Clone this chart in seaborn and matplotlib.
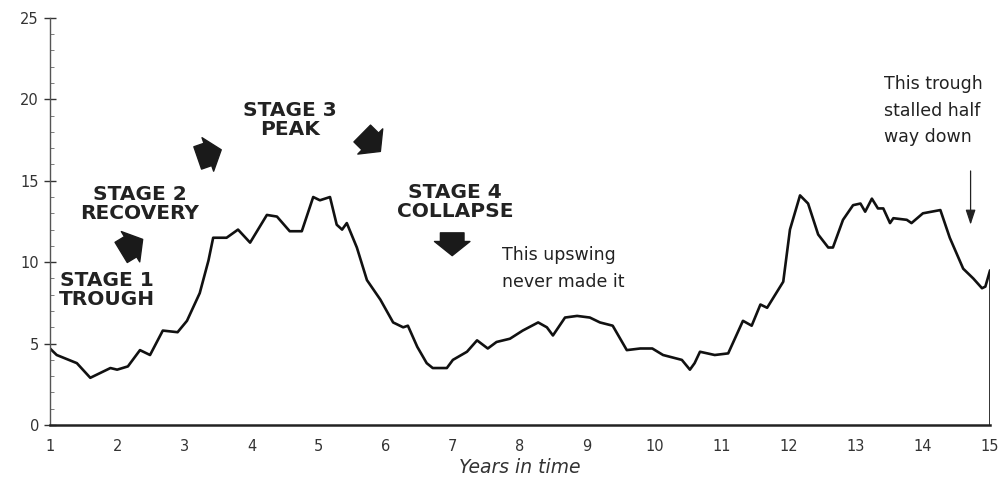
import numpy as np
import pandas as pd
import matplotlib
matplotlib.use("Agg")
import matplotlib.pyplot as plt
import seaborn as sns

# curve
years = [1.0, 1.1, 1.4, 1.6, 1.9, 2.0, 2.16, 2.34, 2.49, 2.68,
         2.9, 3.04, 3.23, 3.36, 3.43, 3.63, 3.8, 3.98, 4.23, 4.38,
         4.57, 4.75, 4.92, 5.02, 5.17, 5.27, 5.35, 5.42, 5.57, 5.72,
         5.92, 6.11, 6.26, 6.33, 6.47, 6.61, 6.7, 6.91, 7.0, 7.21,
         7.36, 7.52, 7.65, 7.85, 8.04, 8.27, 8.4, 8.49, 8.67, 8.85,
         9.04, 9.19, 9.38, 9.59, 9.79, 9.97, 10.13, 10.41, 10.53, 10.6,
         10.68, 10.9, 11.1, 11.32, 11.45, 11.58, 11.68, 11.92, 12.02, 12.17,
         12.29, 12.44, 12.59, 12.66, 12.81, 12.96, 13.07, 13.14, 13.24, 13.33,
         13.41, 13.51, 13.56, 13.76, 13.83, 14.0, 14.26, 14.4, 14.6, 14.75,
         14.88, 14.93, 15.0]
values = [4.7, 4.3, 3.8, 2.9, 3.5, 3.4, 3.6, 4.6, 4.3, 5.8,
          5.7, 6.4, 8.1, 10.1, 11.5, 11.5, 12.0, 11.2, 12.9, 12.8,
          11.9, 11.9, 14.0, 13.8, 14.0, 12.3, 12.0, 12.4, 10.9, 8.9,
          7.7, 6.3, 6.0, 6.1, 4.8, 3.8, 3.5, 3.5, 4.0, 4.5,
          5.2, 4.7, 5.1, 5.3, 5.8, 6.3, 6.0, 5.5, 6.6, 6.7,
          6.6, 6.3, 6.1, 4.6, 4.7, 4.7, 4.3, 4.0, 3.4, 3.8,
          4.5, 4.3, 4.4, 6.4, 6.1, 7.4, 7.2, 8.8, 12.0, 14.1,
          13.6, 11.7, 10.9, 10.9, 12.6, 13.5, 13.6, 13.1, 13.9, 13.3,
          13.3, 12.4, 12.7, 12.6, 12.4, 13.0, 13.2, 11.5, 9.6, 9.0,
          8.4, 8.5, 9.5]

x_ticks = list(range(1, 16))
y_ticks = [0, 5, 10, 15, 20, 25]

# stage labels: text, x, y
stage_labels = ["STAGE 1\nTROUGH", "STAGE 2\nRECOVERY", "STAGE 3\nPEAK", "STAGE 4\nCOLLAPSE"]
stage_x = [1.85, 2.34, 4.57, 7.03]
stage_y = [8.3, 13.6, 18.7, 13.7]

# block arrows: tail -> tip
arrow_tail = [(2.06, 10.6), (3.20, 16.4), (5.65, 17.9), (6.99, 11.8)]
arrow_tip = [(2.38, 11.4), (3.55, 16.9), (5.92, 16.8), (6.99, 10.4)]

notes = ["This upswing\nnever made it", "This trough\nstalled half\nway down"]
note_x = [7.73, 13.42]
note_y = [9.6, 19.3]

df = pd.DataFrame({"year": years, "value": values})

sns.set_style("ticks")
plt.rcParams["font.family"] = ["DejaVu Sans"]

fig = plt.figure(figsize=(10.08, 4.83), dpi=100)
ax = fig.add_axes([0.0496, 0.12, 0.9326, 0.843])

sns.lineplot(data=df, x="year", y="value", ax=ax, color="#111111", linewidth=1.9)
# the curve drops to the axis at the right end
ax.vlines(years[-1], 0, values[-1], color="#111111", linewidth=1.2)

ax.set_xlim(1, 15)
ax.set_ylim(0, 25)
ax.set_xticks(x_ticks)
ax.set_yticks(y_ticks)
ax.set_yticks(np.arange(0, 26, 1), minor=True)
ax.tick_params(axis="x", length=0, pad=10, labelsize=10.5, colors="#333333")
ax.tick_params(axis="y", which="major", direction="inout", length=8, width=1,
               labelsize=10.5, colors="#333333", pad=4)
ax.tick_params(axis="y", which="minor", direction="in", length=3, width=0.6, colors="#666666")
ax.set_xlabel("Years in time", fontstyle="italic", fontsize=13.5, color="#333333", labelpad=3)
ax.set_ylabel("")

sns.despine(ax=ax, top=True, right=True)
ax.spines["left"].set_color("#555555")
ax.spines["left"].set_linewidth(1.0)
ax.spines["bottom"].set_color("#222222")
ax.spines["bottom"].set_linewidth(1.8)

for label, sx, sy in zip(stage_labels, stage_x, stage_y):
    ax.text(sx, sy, label, ha="center", va="center", fontsize=14.5,
            fontweight="bold", color="#222222", linespacing=1.0)

for tail, tip in zip(arrow_tail, arrow_tip):
    ax.annotate("", xy=tip, xytext=tail,
                arrowprops=dict(arrowstyle="simple,head_length=0.6,head_width=1.5,tail_width=1.0",
                                color="#1a1a1a", shrinkA=0, shrinkB=0, mutation_scale=17))

for note, nx, ny in zip(notes, note_x, note_y):
    ax.text(nx, ny, note, ha="left", va="center", fontsize=12.5, color="#222222",
            linespacing=1.6)

ax.annotate("", xy=(14.71, 12.3), xytext=(14.71, 15.6),
            arrowprops=dict(arrowstyle="-|>,head_length=0.9,head_width=0.3",
                            color="#222222", linewidth=0.9, shrinkA=0, shrinkB=0))

fig.savefig("out.png", dpi=100)
